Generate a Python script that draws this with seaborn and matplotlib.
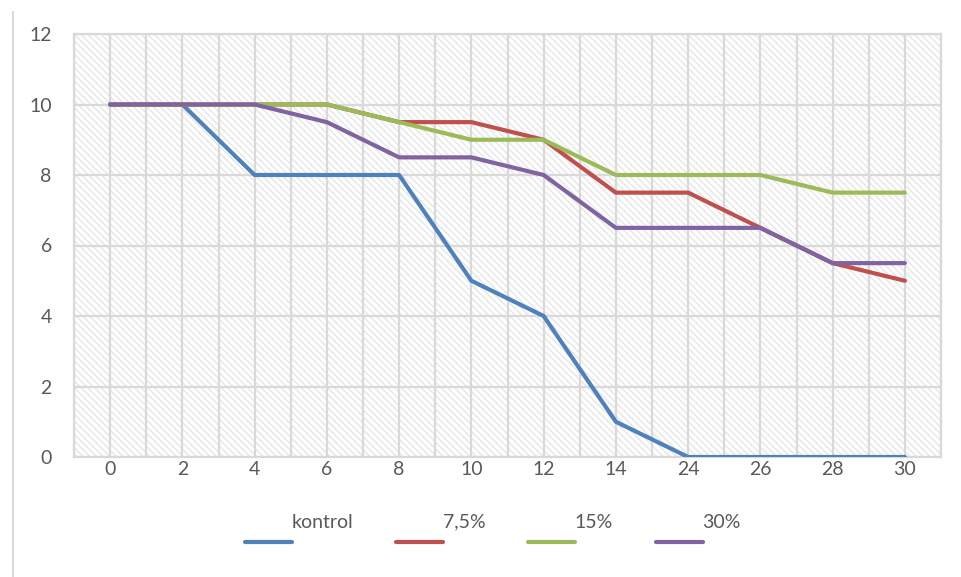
import pandas as pd
import seaborn as sns
import matplotlib.pyplot as plt
from matplotlib.patches import Rectangle
from matplotlib.lines import Line2D
from matplotlib.legend_handler import HandlerLine2D

# Data
days = ["0", "2", "4", "6", "8", "10", "12", "14", "24", "26", "28", "30"]
kontrol = [10, 10, 8, 8, 8, 5, 4, 1, 0, 0, 0, 0]
dose_7_5 = [10, 10, 10, 10, 9.5, 9.5, 9, 7.5, 7.5, 6.5, 5.5, 5]
dose_15 = [10, 10, 10, 10, 9.5, 9, 9, 8, 8, 8, 7.5, 7.5]
dose_30 = [10, 10, 10, 9.5, 8.5, 8.5, 8, 6.5, 6.5, 6.5, 5.5, 5.5]

series = {"kontrol": kontrol, "7,5%": dose_7_5, "15%": dose_15, "30%": dose_30}
colors = ["#4F81BD", "#C0504D", "#9BBB59", "#8064A2"]

df = pd.DataFrame(series)
df["pos"] = range(len(days))
df_long = df.melt(id_vars=["pos"], var_name="grup", value_name="nilai")

sns.set_style("white")
plt.rcParams["font.family"] = ["Lato", "DejaVu Sans"]
text_color = "#595959"
grid_color = "#D9D9D9"
fs = 14

fig = plt.figure(figsize=(9.61, 5.77), dpi=100)
ax = fig.add_axes([74 / 961, 1 - 457 / 577, (941 - 74) / 961, (457 - 34) / 577])

# hatched plot area background
ax.add_patch(Rectangle((0, 0), 1, 1, transform=ax.transAxes, facecolor="white",
                       edgecolor="#E6E6E6", hatch="\\\\\\\\\\", lw=0, zorder=0))

sns.lineplot(data=df_long, x="pos", y="nilai", hue="grup", palette=colors,
             linewidth=3, ax=ax, legend=False, zorder=3)

ax.set_xlim(-0.5, len(days) - 0.5)
ax.set_ylim(0, 12)
ax.set_xticks(range(len(days)))
ax.set_xticklabels(days)
ax.set_xticks([i + 0.5 for i in range(-1, len(days))], minor=True)
ax.set_yticks(range(0, 13, 2))
ax.grid(True, which="both", color=grid_color, lw=1.6, zorder=1)
ax.set_axisbelow(True)
for s in ax.spines.values():
    s.set_color(grid_color)
    s.set_linewidth(1.6)
ax.tick_params(axis="both", which="both", length=0, labelsize=fs, colors=text_color)
ax.tick_params(axis="y", pad=16)
ax.tick_params(axis="x", pad=3)
ax.set_xlabel("")
ax.set_ylabel("")


# legend with the line drawn below the label, like the original
class LowHandler(HandlerLine2D):
    def create_artists(self, legend, orig_handle, xdescent, ydescent, width, height, fontsize, trans):
        y = (height - ydescent) / 2 - 15
        line = Line2D([0, width], [y, y], color=orig_handle.get_color(),
                      lw=orig_handle.get_linewidth(), transform=trans)
        return [line]


handles = [Line2D([], [], color=c, lw=3) for c in colors]
leg = fig.legend(handles, list(series.keys()), loc="center", bbox_to_anchor=(0.513, 1 - 522 / 577),
                 ncol=4, frameon=False, fontsize=fs, handlelength=2.4, handletextpad=0.0,
                 columnspacing=2.2, handler_map={Line2D: LowHandler()})
for t in leg.get_texts():
    t.set_color(text_color)

# partial chart border on the left
fig.add_artist(Line2D([12.5 / 961, 12.5 / 961], [0, 1 - 12 / 577], color="#D9D9D9", lw=1.5))

fig.savefig("out.png", dpi=100)
